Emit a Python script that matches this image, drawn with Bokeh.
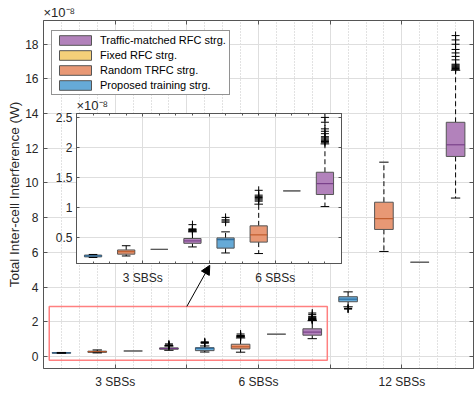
from bokeh.plotting import figure
from bokeh.models import (Range1d, FixedTicker, LinearAxis, Arrow, NormalHead,
                          BoxAnnotation, Legend, LegendItem, GridBox, CustomLabelingPolicy)
from bokeh.embed import file_html
from bokeh.resources import INLINE

FONT = "Liberation Sans"
TXT = "#262626"
AXC = "#555555"

# ---------------- data (units of 1e-8 W) ----------------
group_labels = ["3 SBSs", "6 SBSs", "12 SBSs"]
group_pos = [1, 2, 3]
series_names = ["Proposed training strg.", "Random TRFC strg.",
                "Fixed RFC strg.", "Traffic-matched RFC strg."]
series_fill = ["#66aad7", "#e89875", "#f4d079", "#b282bb"]
series_median = ["#1f5f94", "#b8501f", "#c99a2a", "#6f3580"]
series_offset = [-0.375, -0.125, 0.125, 0.375]

prop_q1 = [0.185, 0.33, 3.15]
prop_med = [0.20, 0.47, 3.30]
prop_q3 = [0.215, 0.50, 3.44]
prop_lo = [0.175, 0.25, 2.86]
prop_hi = [0.225, 0.60, 3.72]
prop_out = [[], [0.76, 0.78, 0.80, 0.84], [2.73, 2.75, 2.77]]

rand_q1 = [0.23, 0.43, 7.32]
rand_med = [0.27, 0.55, 7.94]
rand_q3 = [0.30, 0.70, 8.89]
rand_lo = [0.20, 0.24, 6.05]
rand_hi = [0.37, 1.06, 11.2]
rand_out = [[], [1.11, 1.13, 1.15, 1.17, 1.19, 1.21, 1.29], []]

fixed_val = [0.31, 1.28, 5.43]

traf_q1 = [0.41, 1.22, 11.53]
traf_med = [0.45, 1.40, 12.2]
traf_q3 = [0.49, 1.59, 13.5]
traf_lo = [0.35, 1.02, 9.13]
traf_hi = [0.60, 2.06, 16.5]
traf_out = [[0.61, 0.62, 0.63, 0.64, 0.65, 0.72],
            [2.08, 2.10, 2.12, 2.14, 2.16, 2.18, 2.23, 2.27, 2.31, 2.42, 2.50],
            [16.55, 16.6, 16.65, 16.7, 16.75, 16.8, 16.85, 17.1, 17.3, 17.5,
             17.7, 18.0, 18.25, 18.5]]

main_yticks = [0, 2, 4, 6, 8, 10, 12, 14, 16, 18]
inset_yticks = [0.5, 1, 1.5, 2, 2.5]
inset_ylabels = ["0.5", "1", "1.5", "2", "2.5"]
exponent_text = "×10⁻⁸"

# zoom rectangle & arrow (main axes coordinates)
zoom_box = dict(left=0.54, right=2.48, bottom=-0.23, top=2.88)
arrow_from = (1.5, 2.88)
arrow_to = (1.66, 5.25)

stats = [
    (prop_q1, prop_med, prop_q3, prop_lo, prop_hi, prop_out),
    (rand_q1, rand_med, rand_q3, rand_lo, rand_hi, rand_out),
    (fixed_val, fixed_val, fixed_val, fixed_val, fixed_val, [[], [], []]),
    (traf_q1, traf_med, traf_q3, traf_lo, traf_hi, traf_out),
]

BOX_W = 0.13
CAP_W = 0.065

x_major = [0.5, 1, 1.5, 2, 2.5, 3, 3.5]
x_minor = [0.5 + 0.125 * i for i in range(25)]
x_overrides = {t: "" for t in x_major}
for g, lab in zip(group_pos, group_labels):
    x_overrides[g] = lab

HIDE = CustomLabelingPolicy(code="for (const i of indices) indices.unset(i); return indices")


def draw_boxes(f):
    rends = []
    for k, (q1, med, q3, lo, hi, outs) in enumerate(stats):
        xs = [g + series_offset[k] for g in group_pos]
        wx, wy0, wy1 = [], [], []
        cx0, cx1, cy = [], [], []
        for i in range(len(xs)):
            if hi[i] > q3[i]:
                wx.append(xs[i]); wy0.append(q3[i]); wy1.append(hi[i])
                cx0.append(xs[i] - CAP_W / 2); cx1.append(xs[i] + CAP_W / 2); cy.append(hi[i])
            if lo[i] < q1[i]:
                wx.append(xs[i]); wy0.append(q1[i]); wy1.append(lo[i])
                cx0.append(xs[i] - CAP_W / 2); cx1.append(xs[i] + CAP_W / 2); cy.append(lo[i])
        f.segment(x0=wx, y0=wy0, x1=wx, y1=wy1, line_color="black",
                  line_width=1, line_dash="5 3")
        r = f.vbar(x=xs, width=BOX_W, top=q3, bottom=q1, fill_color=series_fill[k],
                   line_color=AXC, line_width=1)
        mx0 = [xs[i] - BOX_W / 2 for i in range(len(xs)) if q3[i] > q1[i]]
        mx1 = [xs[i] + BOX_W / 2 for i in range(len(xs)) if q3[i] > q1[i]]
        my = [med[i] for i in range(len(xs)) if q3[i] > q1[i]]
        f.segment(x0=mx0, y0=my, x1=mx1, y1=my, line_color=series_median[k], line_width=1)
        f.segment(x0=cx0, y0=cy, x1=cx1, y1=cy, line_color="black", line_width=1)
        ox = [xs[i] for i in range(len(xs)) for _ in outs[i]]
        oy = [v for i in range(len(xs)) for v in outs[i]]
        f.scatter(x=ox, y=oy, marker="cross", size=8, line_color="black", line_width=1)
        rends.append(r)
    return rends


def style_axis(ax, show_labels=True, size="12px", tick_len=4, minor_len=0, standoff=5):
    ax.axis_line_color = AXC
    ax.axis_line_width = 1
    ax.major_tick_line_color = AXC
    ax.minor_tick_line_color = AXC
    ax.major_tick_in = tick_len
    ax.major_tick_out = 0
    ax.minor_tick_in = minor_len
    ax.minor_tick_out = 0
    ax.major_label_text_font = FONT
    ax.major_label_text_color = TXT
    if show_labels:
        ax.major_label_text_font_size = size
        ax.major_label_standoff = standoff
    else:
        ax.major_label_text_font_size = "0px"
        ax.major_label_standoff = 0
        ax.major_label_policy = HIDE


def style_title(f):
    f.title.text = exponent_text
    f.title.text_font = FONT
    f.title.text_font_size = "13px"
    f.title.text_font_style = "normal"
    f.title.text_color = TXT
    f.title.align = "left"
    f.title.offset = 0
    f.title.standoff = 1


# ---------------- main figure ----------------
p = figure(width=474, height=393, x_range=Range1d(0.5, 3.5), y_range=Range1d(-0.7, 19.37),
           output_backend="svg", toolbar_location=None,
           min_border_left=43, min_border_right=1, min_border_top=20, min_border_bottom=25)
p.background_fill_color = "white"
p.border_fill_color = "white"
p.outline_line_color = None
style_title(p)

xt = FixedTicker(ticks=x_major, minor_ticks=x_minor)
yt = FixedTicker(ticks=main_yticks, minor_ticks=[])
p.xaxis[0].ticker = xt
p.yaxis[0].ticker = yt
p.xaxis[0].major_label_overrides = x_overrides
style_axis(p.xaxis[0], standoff=6)
style_axis(p.yaxis[0], standoff=5)
p.yaxis[0].axis_label = "Total Inter-cell Interference (W)"
p.yaxis[0].axis_label_text_font = FONT
p.yaxis[0].axis_label_text_font_size = "13.5px"
p.yaxis[0].axis_label_text_font_style = "normal"
p.yaxis[0].axis_label_text_color = TXT
p.yaxis[0].axis_label_standoff = 0

top_ax = LinearAxis(ticker=xt)
style_axis(top_ax, show_labels=False)
right_ax = LinearAxis(ticker=yt)
style_axis(right_ax, show_labels=False)
p.add_layout(top_ax, "above")
p.add_layout(right_ax, "right")

p.xgrid.grid_line_color = "#dedede"
p.xgrid.minor_grid_line_color = "#c4c4c4"
p.xgrid.minor_grid_line_dash = "1 2"
p.ygrid.grid_line_color = "#dedede"

main_rends = draw_boxes(p)

p.add_layout(BoxAnnotation(fill_alpha=0, line_color="#ff8080", line_alpha=1,
                           line_width=1.5, **zoom_box))
p.add_layout(Arrow(end=NormalHead(size=9, fill_color="black", line_color="black"),
                   x_start=arrow_from[0], y_start=arrow_from[1],
                   x_end=arrow_to[0], y_end=arrow_to[1], line_color="black", line_width=1))

legend = Legend(items=[LegendItem(label=series_names[k], renderers=[main_rends[k]])
                       for k in [3, 2, 1, 0]],
                location=(8, 273))
legend.label_text_font = FONT
legend.label_text_font_size = "11px"
legend.label_text_color = "black"
legend.glyph_width = 40
legend.glyph_height = 12
legend.label_height = 12
legend.label_standoff = 5
legend.spacing = 3
legend.padding = 3
legend.margin = 0
legend.border_line_color = "#262626"
legend.border_line_width = 1
legend.background_fill_color = "white"
legend.background_fill_alpha = 1
p.add_layout(legend)

# ---------------- inset figure ----------------
q = figure(width=291, height=192, x_range=Range1d(0.5, 2.5), y_range=Range1d(0.075, 2.565),
           output_backend="svg", toolbar_location=None,
           min_border_left=24, min_border_right=2, min_border_top=18, min_border_bottom=22)
q.background_fill_color = "white"
q.border_fill_alpha = 0
q.outline_line_color = None
style_title(q)

qxt = FixedTicker(ticks=[0.5, 1, 1.5, 2, 2.5], minor_ticks=x_minor)
qyt = FixedTicker(ticks=inset_yticks, minor_ticks=[])
q.xaxis[0].ticker = qxt
q.yaxis[0].ticker = qyt
q.xaxis[0].major_label_overrides = x_overrides
q.yaxis[0].major_label_overrides = dict(zip(inset_yticks, inset_ylabels))
style_axis(q.xaxis[0], tick_len=3, minor_len=2, standoff=7)
style_axis(q.yaxis[0], tick_len=3, standoff=4)
q_top = LinearAxis(ticker=qxt)
style_axis(q_top, show_labels=False, tick_len=3, minor_len=2)
q_right = LinearAxis(ticker=qyt)
style_axis(q_right, show_labels=False, tick_len=3)
q.add_layout(q_top, "above")
q.add_layout(q_right, "right")
q.xgrid.grid_line_color = "#dedede"
q.ygrid.grid_line_color = "#dedede"

draw_boxes(q)

grid = GridBox(children=[(p, 0, 0, 3, 3), (q, 1, 1, 1, 1)],
               rows=["95px", "192px", "106px"], cols=["52px", "291px", "131px"])

open("out.html", "w").write(file_html(grid, INLINE))
